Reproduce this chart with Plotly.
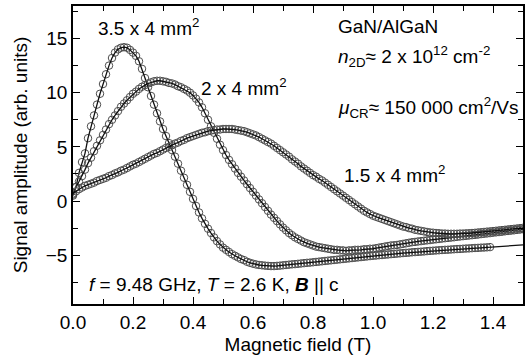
import plotly.graph_objects as go

# Magnetic-field sweep grid (T), 0.01 T steps
field = [round(0.01 * i, 2) for i in range(151)]

# 3.5 x 4 mm^2 sample, 0.00 ... 1.39 T
amp_35 = [
    0.5, 1.3, 2.6, 3.6, 4.4, 5.8, 6.9, 7.9, 8.9, 9.9,
    10.8, 11.7, 12.5, 13.2, 13.7, 14.0, 14.15, 14.2, 14.15, 13.95,
    13.7, 13.4, 12.9, 12.2, 11.35, 10.5, 9.7, 8.9, 8.1, 7.35,
    6.65, 6.0, 5.35, 4.7, 4.1, 3.45, 2.8, 2.15, 1.5, 0.85,
    0.2, -0.45, -1.05, -1.6, -2.1, -2.55, -2.95, -3.35, -3.7, -4.0,
    -4.3, -4.5, -4.7, -4.9, -5.05, -5.2, -5.35, -5.45, -5.6, -5.7,
    -5.78, -5.85, -5.9, -5.93, -5.96, -5.98, -6.0, -6.0, -5.98, -5.96,
    -5.93, -5.9, -5.87, -5.84, -5.82, -5.79, -5.76, -5.73, -5.7, -5.68,
    -5.65, -5.62, -5.59, -5.56, -5.53, -5.5, -5.47, -5.44, -5.41, -5.38,
    -5.35, -5.32, -5.29, -5.26, -5.23, -5.2, -5.17, -5.14, -5.11, -5.08,
    -5.05, -5.03, -5.0, -4.98, -4.95, -4.93, -4.9, -4.88, -4.85, -4.83,
    -4.8, -4.78, -4.76, -4.73, -4.71, -4.69, -4.67, -4.65, -4.62, -4.6,
    -4.58, -4.56, -4.54, -4.52, -4.5, -4.49, -4.47, -4.45, -4.43, -4.42,
    -4.4, -4.38, -4.37, -4.35, -4.33, -4.32, -4.3, -4.29, -4.27, -4.25,
]
# fitted curve of the 3.5 x 4 mm^2 sample beyond the last data point
fit_35_tail_field = [1.45, 1.50]
fit_35_tail = [-4.15, -4.05]

# 2 x 4 mm^2 sample, 0.00 ... 1.50 T
amp_2 = [
    0.6, 1.3, 1.8, 2.3, 2.9, 3.5, 4.0, 4.6, 5.1, 5.6,
    6.1, 6.6, 7.1, 7.5, 7.9, 8.3, 8.7, 9.0, 9.3, 9.6,
    9.9, 10.1, 10.35, 10.55, 10.7, 10.85, 10.95, 11.05, 11.1, 11.1,
    11.05, 11.0, 10.9, 10.85, 10.75, 10.6, 10.5, 10.35, 10.2, 10.0,
    9.75, 9.45, 9.1, 8.65, 8.1, 7.5, 6.9, 6.3, 5.75, 5.2,
    4.7, 4.25, 3.8, 3.4, 3.0, 2.6, 2.25, 1.9, 1.55, 1.2,
    0.85, 0.5, 0.15, -0.2, -0.55, -0.9, -1.25, -1.55, -1.85, -2.15,
    -2.45, -2.7, -2.95, -3.15, -3.35, -3.5, -3.65, -3.8, -3.9, -4.0,
    -4.1, -4.2, -4.25, -4.3, -4.35, -4.4, -4.45, -4.5, -4.5, -4.55,
    -4.55, -4.6, -4.55, -4.55, -4.5, -4.5, -4.5, -4.45, -4.45, -4.4,
    -4.4, -4.35, -4.3, -4.25, -4.2, -4.15, -4.1, -4.08, -4.05, -4.0,
    -3.95, -3.9, -3.85, -3.8, -3.77, -3.73, -3.7, -3.66, -3.63, -3.6,
    -3.56, -3.53, -3.5, -3.46, -3.43, -3.4, -3.37, -3.34, -3.3, -3.27,
    -3.24, -3.21, -3.18, -3.15, -3.12, -3.09, -3.05, -3.02, -2.99, -2.96,
    -2.92, -2.89, -2.86, -2.83, -2.79, -2.76, -2.73, -2.7, -2.66, -2.63,
    -2.6,
]

# 1.5 x 4 mm^2 sample, 0.00 ... 1.50 T
amp_15 = [
    0.7, 0.9, 1.1, 1.25, 1.4, 1.5, 1.6, 1.7, 1.85, 1.95,
    2.05, 2.15, 2.3, 2.4, 2.55, 2.65, 2.8, 2.9, 3.05, 3.2,
    3.35, 3.45, 3.6, 3.75, 3.9, 4.05, 4.2, 4.35, 4.45, 4.6,
    4.75, 4.9, 5.0, 5.15, 5.3, 5.4, 5.55, 5.65, 5.8, 5.9,
    6.0, 6.1, 6.2, 6.3, 6.35, 6.45, 6.5, 6.55, 6.6, 6.6,
    6.65, 6.65, 6.65, 6.65, 6.6, 6.55, 6.5, 6.45, 6.35, 6.25,
    6.15, 6.05, 5.9, 5.75, 5.6, 5.45, 5.3, 5.1, 4.9, 4.7,
    4.5, 4.3, 4.1, 3.85, 3.65, 3.45, 3.2, 3.0, 2.8, 2.6,
    2.4, 2.25, 2.05, 1.9, 1.7, 1.5, 1.3, 1.1, 0.9, 0.7,
    0.5, 0.3, 0.1, -0.1, -0.3, -0.5, -0.7, -0.9, -1.05, -1.2,
    -1.35, -1.45, -1.55, -1.65, -1.75, -1.85, -1.95, -2.05, -2.15, -2.25,
    -2.35, -2.4, -2.5, -2.55, -2.65, -2.7, -2.75, -2.8, -2.85, -2.9,
    -2.92, -2.95, -2.97, -3.0, -3.0, -3.02, -3.02, -3.02, -3.02, -3.0,
    -3.0, -2.98, -2.97, -2.95, -2.93, -2.9, -2.88, -2.85, -2.82, -2.8,
    -2.77, -2.74, -2.71, -2.68, -2.65, -2.62, -2.59, -2.56, -2.53, -2.5,
    -2.47,
]

FONT = "Liberation Sans, Arial, sans-serif"
FS = 19

fig = go.Figure()

series = [
    (field[:len(amp_35)], amp_35, field[:len(amp_35)] + fit_35_tail_field, amp_35 + fit_35_tail),
    (field, amp_2, field, amp_2),
    (field, amp_15, field, amp_15),
]

for xs, ys, fx, fy in series:
    fig.add_trace(go.Scatter(
        x=xs, y=ys, mode="markers",
        marker=dict(symbol="circle-open", size=7.5, color="#4d4d4d",
                    line=dict(width=1, color="#4d4d4d")),
        showlegend=False, hoverinfo="skip",
    ))
    fig.add_trace(go.Scatter(
        x=fx, y=fy, mode="lines",
        line=dict(color="#111111", width=1.3),
        showlegend=False, hoverinfo="skip",
    ))

def label(x, y, text):
    fig.add_annotation(x=x, y=y, xref="x", yref="y", text=text,
                       showarrow=False, xanchor="left", yanchor="middle",
                       font=dict(family=FONT, size=FS, color="black"))

label(0.075, 16.1, "3.5 x 4 mm<sup>2</sup>")
label(0.42, 10.5, "2 x 4 mm<sup>2</sup>")
label(0.895, 2.5, "1.5 x 4 mm<sup>2</sup>")
label(0.875, 16.1, "GaN/AlGaN")
label(0.875, 13.3, "<i>n</i><sub>2D</sub>\u2248 2 x 10<sup>12</sup> cm<sup>-2</sup>")
label(0.875, 8.6, "<i>\u03bc</i><sub>CR</sub>\u2248 150 000 cm<sup>2</sup>/Vs")
label(0.045, -7.7, "<i>f</i> = 9.48 GHz, <i>T</i> = 2.6 K, <b><i>B</i></b> || c")

axis_common = dict(
    showline=True, linecolor="black", linewidth=1.5, mirror="allticks",
    ticks="inside", ticklen=7, tickwidth=1.2, tickcolor="black",
    showgrid=False, zeroline=False,
    tickfont=dict(family=FONT, size=FS, color="black"),
)

fig.update_xaxes(
    range=[0, 1.5], tick0=0, dtick=0.2, tickformat=".1f",
    minor=dict(dtick=0.1, ticks="inside", ticklen=5, tickwidth=1.2, tickcolor="black"),
    title=dict(text="Magnetic field (T)", font=dict(family=FONT, size=FS, color="black"), standoff=6),
    **axis_common,
)
fig.update_yaxes(
    range=[-9.5, 18], tick0=0, dtick=5,
    minor=dict(dtick=2.5, ticks="inside", ticklen=5, tickwidth=1.2, tickcolor="black"),
    title=dict(text="Signal amplitude (arb. units)", font=dict(family=FONT, size=FS, color="black"), standoff=13),
    **axis_common,
)

fig.update_layout(
    width=532, height=362,
    margin=dict(l=73, r=9, t=4, b=58),
    paper_bgcolor="white", plot_bgcolor="white",
)

fig.write_html("out.html")
